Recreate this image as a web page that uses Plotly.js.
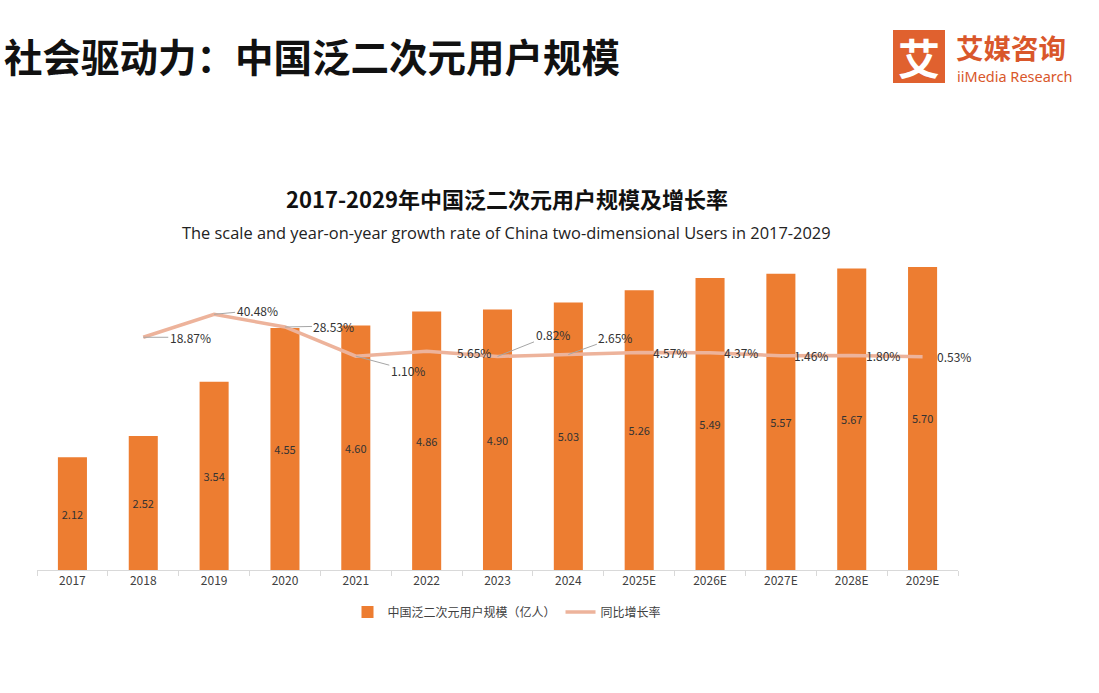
<!DOCTYPE html>
<html>
<head>
<meta charset="utf-8">
<script src="https://cdn.plot.ly/plotly-3.0.1.min.js"></script>
<style>html,body{margin:0;padding:0;background:#fff;}#chart{width:1099px;height:693px;}</style>
</head>
<body>
<div id="chart"></div>
<script>
const years = ['2017','2018','2019','2020','2021','2022','2023','2024','2025E','2026E','2027E','2028E','2029E'];
const users = [2.12, 2.52, 3.54, 4.55, 4.60, 4.86, 4.90, 5.03, 5.26, 5.49, 5.57, 5.67, 5.70];
const growthYears = ['2018','2019','2020','2021','2022','2023','2024','2025E','2026E','2027E','2028E','2029E'];
const growth = [18.87, 40.48, 28.53, 1.10, 5.65, 0.82, 2.65, 4.57, 4.37, 1.46, 1.80, 0.53];
const barName = '中国泛二次元用户规模（亿人）';
const lineName = '同比增长率';

// label offsets (pixels) for growth labels
const labelOffsets = [
  {ax:47, ay:0, arrow:true},
  {ax:43, ay:-4, arrow:true},
  {ax:49, ay:-1, arrow:true},
  {ax:52, ay:14, arrow:true},
  {ax:47, ay:1, arrow:false},
  {ax:55, ay:-22, arrow:true},
  {ax:47, ay:-17, arrow:true},
  {ax:31, ay:0, arrow:false},
  {ax:31, ay:0, arrow:false},
  {ax:30, ay:0, arrow:false},
  {ax:31, ay:0, arrow:false},
  {ax:31, ay:0, arrow:false}
];

const L = 37, R = 958, T = 251, B = 570;
const px = x => (x - L) / (R - L);
const py = y => (B - y) / (B - T);
const FONT = '"Noto Sans CJK SC", "Noto Sans", sans-serif';

const traces = [
  {
    type: 'bar', x: years, y: users, name: barName,
    marker: {color: '#ED7D31'},
    text: users.map(v => v.toFixed(2)), textposition: 'inside', insidetextanchor: 'middle',
    textangle: 0, insidetextfont: {color: '#333333', size: 11, family: FONT},
    hoverinfo: 'x+y'
  },
  {
    type: 'scatter', mode: 'lines', x: growthYears, y: growth, name: lineName, yaxis: 'y2',
    line: {color: '#EDB39B', width: 3.5}
  }
];

const annotations = growth.map((g, i) => {
  const o = labelOffsets[i];
  const a = {
    x: years.indexOf(growthYears[i]), y: g, xref: 'x', yref: 'y2',
    text: g.toFixed(2) + '%', font: {size: 12, color: '#333333', family: FONT}
  };
  if (o.arrow) {
    Object.assign(a, {showarrow: true, arrowhead: 0, arrowwidth: 1, arrowcolor: '#a6a6a6', ax: o.ax, ay: o.ay, standoff: 0});
  } else {
    Object.assign(a, {showarrow: false, xshift: o.ax, yshift: -o.ay});
  }
  return a;
});

annotations.push(
  {xref:'paper', yref:'paper', x: px(2), y: py(55), xanchor:'left', yanchor:'middle', showarrow:false,
   text:'<b>社会驱动力：中国泛二次元用户规模</b>', font:{size:38.5, color:'#111111', family: FONT}},
  {xref:'paper', yref:'paper', x: px(507), y: py(198), xanchor:'center', yanchor:'middle', showarrow:false,
   text:'<b>2017-2029年中国泛二次元用户规模及增长率</b>', font:{size:22, color:'#111111', family: FONT}},
  {xref:'paper', yref:'paper', x: px(506), y: py(232), xanchor:'center', yanchor:'middle', showarrow:false,
   text:'The scale and year-on-year growth rate of China two-dimensional Users in 2017-2029', font:{size:16.4, color:'#222222', family: '"Open Sans", "Noto Sans", sans-serif'}},
  {xref:'paper', yref:'paper', x: px(919), y: py(57), xanchor:'center', yanchor:'middle', showarrow:false,
   text:'<b>艾</b>', font:{size:42, color:'#ffffff', family: FONT}},
  {xref:'paper', yref:'paper', x: px(954), y: py(47), xanchor:'left', yanchor:'middle', showarrow:false,
   text:'<b>艾媒咨询</b>', font:{size:27.5, color:'#D9572B', family: FONT}},
  {xref:'paper', yref:'paper', x: px(955), y: py(76), xanchor:'left', yanchor:'middle', showarrow:false,
   text:'iiMedia Research', font:{size:14.5, color:'#D9572B', family: '"Noto Sans", sans-serif'}}
);

const shapes = [
  {type:'rect', xref:'paper', yref:'paper', x0: px(893), x1: px(945), y0: py(83), y1: py(30),
   fillcolor:'#E0612F', line:{width:0}, layer:'below'}
];

const layout = {
  width: 1099, height: 693,
  margin: {l: L, r: 1099 - R, t: T, b: 693 - B, pad: 0},
  paper_bgcolor: '#ffffff', plot_bgcolor: '#ffffff',
  font: {family: FONT, color: '#404040'},
  showlegend: true,
  legend: {orientation: 'h', x: px(507), xanchor: 'center', y: py(612), yanchor: 'middle',
           font: {size: 12, color: '#404040', family: FONT}, itemwidth: 30},
  bargap: 0.59,
  xaxis: {type: 'category', autorange: false, range: [-0.5, years.length - 0.5],
          showline: true, linecolor: '#d9d9d9', linewidth: 1,
          ticks: 'outside', tickson: 'boundaries', ticklen: 5, tickcolor: '#d9d9d9',
          tickfont: {size: 12, color: '#404040', family: FONT}, showgrid: false, zeroline: false, fixedrange: true},
  yaxis: {range: [0, 6], autorange: false, visible: false, showgrid: false, zeroline: false},
  yaxis2: {range: [-200, 100], autorange: false, overlaying: 'y', side: 'right', visible: false, showgrid: false, zeroline: false},
  annotations: annotations,
  shapes: shapes
};

Plotly.newPlot('chart', traces, layout, {displayModeBar: false, staticPlot: true});
</script>
</body>
</html>
